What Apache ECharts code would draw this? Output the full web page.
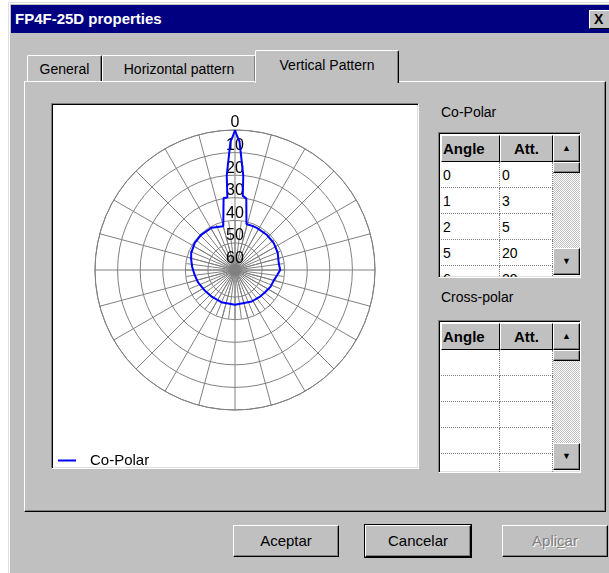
<!DOCTYPE html>
<html>
<head>
<meta charset="utf-8">
<script src="https://cdn.jsdelivr.net/npm/echarts@6/dist/echarts.min.js"></script>
<style>
body { margin:0; width:609px; height:573px; background:#fff; overflow:hidden; position:relative;
  font-family:"Liberation Sans", Arial, sans-serif; font-size:14px; color:#000; }
.abs { position:absolute; box-sizing:border-box; }
.win { left:8px; top:2px; width:610px; height:580px; background:#c0c0c0;
  border-left:1px solid #dfdfdf; border-top:1px solid #dfdfdf; box-shadow: inset 1px 1px 0 #fff; }
.title { left:11px; top:5px; width:600px; height:28px; background:#000080; color:#fff;
  font-weight:bold; font-size:15px; line-height:28px; padding-left:4px; }
.close { left:589px; top:10px; width:21px; height:19px; background:#c0c0c0; font-weight:bold;
  font-size:14px; line-height:17px; padding-left:4px;
  border-top:1px solid #fff; border-left:1px solid #fff; border-bottom:1px solid #000; }
.tab { top:55px; height:27px; background:#c0c0c0; border-top:1px solid #fff; border-left:1px solid #fff;
  border-right:1px solid #000; border-top-left-radius:2px; border-top-right-radius:2px;
  box-shadow: inset -1px 0 0 #808080; text-align:center; line-height:26px; font-size:14px; }
.tab.sel { top:50px; height:33px; z-index:3; line-height:28px; }
.panel { left:24px; top:81px; width:582px; height:431px; border-top:1px solid #fff; border-left:1px solid #fff;
  border-right:1px solid #000; border-bottom:1px solid #000; box-shadow: inset -1px -1px 0 #808080; z-index:1; }
.sunk { border-top:1px solid #808080; border-left:1px solid #808080; border-right:1px solid #fff; border-bottom:1px solid #fff;
  box-shadow: inset 1px 1px 0 #000, inset -1px -1px 0 #dfdfdf; background:#fff; }
.lbl { font-size:14px; }
.grid { overflow:hidden; }
.hdr { position:absolute; top:2px; height:27px; background:#c0c0c0; font-weight:bold; font-size:15px; line-height:26px;
  border-top:1px solid #fff; border-left:1px solid #fff; border-right:1px solid #000; border-bottom:1px solid #000; box-sizing:border-box; }
.cell { position:absolute; height:26px; line-height:26px; font-size:14px; padding-left:2px; box-sizing:border-box;
  border-bottom:1px dotted #808080; border-right:1px dotted #808080; }
.sb { position:absolute; top:2px; width:27px; bottom:2px;
  background: repeating-conic-gradient(#fff 0 25%, #c0c0c0 0 50%) 0 0/2px 2px; }
.sbtn { position:absolute; left:0; width:27px; height:27px; background:#c0c0c0; box-sizing:border-box;
  border-top:1px solid #fff; border-left:1px solid #fff; border-right:1px solid #000; border-bottom:1px solid #000;
  box-shadow: inset -1px -1px 0 #808080; font-size:9px; text-align:center; line-height:25px; }
.btn { top:525px; height:32px; width:106px; background:#c0c0c0; text-align:center; line-height:30px; font-size:15px;
  border-top:1px solid #fff; border-left:1px solid #fff; border-right:1px solid #000; border-bottom:1px solid #000;
  box-shadow: inset -1px -1px 0 #808080; }
.btn.def { outline:1px solid #000; }
.btn.dis { color:#808080; text-shadow:1px 1px 0 #fff; }
</style>
</head>
<body>
<div class="abs win"></div>
<div class="abs title">FP4F-25D properties</div>
<div class="abs close">X</div>

<div class="abs tab" style="left:27px;width:75px;">General</div>
<div class="abs tab" style="left:102px;width:154px;">Horizontal pattern</div>
<div class="abs tab sel" style="left:255px;width:144px;">Vertical Pattern</div>
<div class="abs panel"></div>

<div class="abs sunk" style="left:51px;top:103px;width:368px;height:366px;z-index:2;"></div>
<div id="chart" class="abs" style="left:53px;top:105px;width:364px;height:362px;z-index:3;"></div>

<div class="abs lbl" style="left:441px;top:104px;z-index:2;">Co-Polar</div>
<div id="coGrid" class="abs sunk grid" style="left:438px;top:132px;width:143px;height:146px;z-index:2;"></div>
<div class="abs lbl" style="left:441px;top:289px;z-index:2;">Cross-polar</div>
<div id="xGrid" class="abs sunk grid" style="left:438px;top:320px;width:143px;height:153px;z-index:2;"></div>

<div class="abs btn" style="left:233px;">Aceptar</div>
<div class="abs btn def" style="left:365px;">Cancelar</div>
<div class="abs btn dis" style="left:502px;">Apli<u>c</u>ar</div>

<script>
// Co-Polar vertical pattern: elevation angle (deg) and attenuation (dB)
var coAngles = [0, 1, 2, 5, 6, 9, 14, 23, 28, 42, 55, 68, 81, 90, 97, 105, 115, 126, 136, 152, 180,
  203, 222, 236, 252, 263, 274, 283, 291, 304, 316, 331, 345, 351, 354, 355, 358, 359, 360];
var coAtt = [0, 3, 5, 20, 29, 30, 41, 41, 41, 41, 41.1, 41.6, 42.4, 42, 43.2, 44.2, 44.6, 45.4, 45.8, 46.2, 46.6,
  46.5, 46.3, 45.8, 44.7, 44, 43, 42.1, 41.2, 40.5, 40.4, 40.6, 41.9, 29.7, 29.7, 20, 5, 3, 0];
// Cross-polar has no points
var xAngles = [];
var xAtt = [];
var radiusTicks = [0, 10, 20, 30, 40, 50, 60];
var seriesName = 'Co-Polar';

function buildGrid(id, angles, atts) {
  var g = document.getElementById(id);
  var html = '<div class="hdr" style="left:2px;width:59px;padding-left:1px;">Angle</div>' +
             '<div class="hdr" style="left:61px;width:53px;text-align:center;">Att.</div>';
  for (var i = 0; i < 6; i++) {
    var top = 29 + i * 26;
    var a = i < angles.length ? angles[i] : '';
    var v = i < atts.length ? atts[i] : '';
    html += '<div class="cell" style="left:2px;top:' + top + 'px;width:59px;">' + a + '</div>';
    html += '<div class="cell" style="left:61px;top:' + top + 'px;width:53px;">' + v + '</div>';
  }
  html += '<div class="sb" style="left:114px;">' +
          '<div class="sbtn" style="top:0;">&#9650;</div>' +
          '<div class="sbtn" style="top:27px;height:11px;"></div>' +
          '<div class="sbtn" style="bottom:0;">&#9660;</div></div>';
  g.innerHTML = html;
}
buildGrid('coGrid', coAngles, coAtt);
buildGrid('xGrid', xAngles, xAtt);

var chart = echarts.init(document.getElementById('chart'));
var gridColor = '#808080';
chart.setOption({
  animation: false,
  polar: [
    { center: [182, 165], radius: 140 },
    { center: [182, 165], radius: 49 }
  ],
  angleAxis: [
    { polarIndex: 0, type: 'value', min: 0, max: 360, interval: 15, startAngle: 90, clockwise: true,
      axisLine: { show: true, lineStyle: { color: gridColor, width: 1 } },
      axisTick: { show: false }, axisLabel: { show: false },
      splitLine: { show: true, lineStyle: { color: gridColor, width: 1 } } },
    { polarIndex: 1, type: 'value', min: 0, max: 360, interval: 7.5, startAngle: 90, clockwise: true,
      axisLine: { show: false }, axisTick: { show: false }, axisLabel: { show: false },
      splitLine: { show: true, lineStyle: { color: gridColor, width: 1 } } }
  ],
  radiusAxis: [
    { polarIndex: 0, type: 'value', min: 0, max: 62, interval: 10, inverse: true,
      axisLine: { show: false }, axisTick: { show: false },
      splitLine: { show: true, lineStyle: { color: gridColor, width: 1 } },
      axisLabel: {
        show: true, margin: 0, align: 'center', verticalAlign: 'bottom', lineHeight: 14,
        fontSize: 16, color: '#000', fontFamily: 'Liberation Sans',
        formatter: function (v) { return radiusTicks.indexOf(v) >= 0 ? String(v) : ''; }
      } },
    { polarIndex: 1, type: 'value', min: 0, max: 1, show: false,
      axisLine: { show: false }, axisTick: { show: false }, axisLabel: { show: false }, splitLine: { show: false } }
  ],
  legend: {
    data: [seriesName], left: 0, top: 343, icon: 'rect', itemWidth: 18, itemHeight: 2,
    textStyle: { fontSize: 15, color: '#000', fontFamily: 'Liberation Sans', padding: [0, 0, 0, 9] }
  },
  series: [
    { name: seriesName, type: 'line', coordinateSystem: 'polar', polarIndex: 0,
      data: coAngles.map(function (a, i) { return [coAtt[i], a]; }),
      showSymbol: false, symbol: 'none',
      lineStyle: { color: '#0000ff', width: 2 }, itemStyle: { color: '#0000ff' } }
  ]
});
</script>
</body>
</html>
